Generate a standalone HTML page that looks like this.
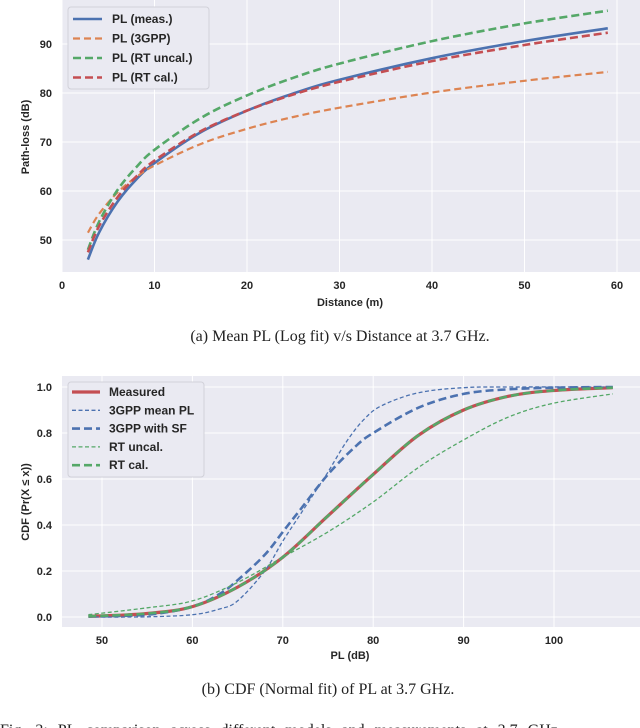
<!DOCTYPE html>
<html><head><meta charset="utf-8"><style>
body{margin:0;background:#fff;width:640px;height:728px;overflow:hidden}
svg{display:block}
text{font-family:"Liberation Sans",sans-serif;font-weight:bold}
.cap{font-family:"Liberation Serif",serif;font-size:16px;fill:#222;font-weight:normal}
</style></head><body>
<svg id="s" width="640" height="728"></svg>
<script>
// ---- Chart (a) data ----
const distA = [2.8,4,6,8,10,15,20,25,30,40,50,59];
const plMeas = [46,51.5,57.8,62.3,65.7,72,76.4,79.9,82.7,87.1,90.6,93.2];
const pl3gpp = [51.5,55.3,59.7,62.8,65.2,69.6,72.7,75.1,77.0,80.1,82.5,84.3];
const plRtUncal = [48,53.7,60.2,64.8,68.4,74.9,79.5,83.1,86.0,90.6,94.2,96.8];
const plRtCal = [47.5,52.8,58.7,62.9,66.2,72.2,76.4,79.7,82.3,86.5,89.8,92.3];
const xTicksA = [0,10,20,30,40,50,60];
const yTicksA = [50,60,70,80,90];
// ---- Chart (b) data ----
const plGridMeas = [48.5,50,55,60,65,70,75,80,85,90,95,100,106.5];
const cdfMeas = [0.003,0.005,0.015,0.045,0.13,0.26,0.44,0.62,0.79,0.9,0.96,0.985,0.997];
const plGrid3gpp = [48.5,55,60,63,65,68,70,72,74,75,77,79,81,85,90,95,106.5];
const cdf3gppMean = [0,0.001,0.01,0.035,0.07,0.2,0.33,0.45,0.57,0.63,0.76,0.86,0.92,0.975,0.997,1,1];
const plGridSF = [48.5,55,60,63,65,68,70,72,75,78,80,85,90,95,100,106.5];
const cdf3gppSF = [0.002,0.01,0.045,0.1,0.16,0.27,0.37,0.47,0.62,0.74,0.8,0.91,0.97,0.99,0.997,1];
const plGridRT = [48.5,55,60,65,70,75,80,85,90,95,100,106.5];
const cdfRtUncal = [0.01,0.04,0.07,0.15,0.26,0.37,0.5,0.65,0.77,0.87,0.93,0.97];
const cdfRtCal = [0.003,0.015,0.045,0.13,0.26,0.44,0.62,0.79,0.9,0.96,0.985,0.997];
const xTicksB = [50,60,70,80,90,100];
const yTicksB = [0,0.2,0.4,0.6,0.8,1.0];

const NS="http://www.w3.org/2000/svg";
const svg=document.getElementById('s');
function el(tag,attrs,parent){const e=document.createElementNS(NS,tag);for(const k in attrs)e.setAttribute(k,attrs[k]);(parent||svg).appendChild(e);return e;}
function txt(x,y,s,attrs){const t=el('text',Object.assign({x:x,y:y},attrs||{}));t.textContent=s;return t;}

const xA=d=>62+d*9.25, yA=v=>240-(v-50)*4.9;
const xB=v=>102+(v-50)*9.04, yB=p=>617-p*230;

function panel(top,bottom,name){
  const r=el('rect',{x:62,y:top,width:578,height:bottom-top,fill:'#eaeaf2'});
  
  
}
function line(xs,ys,fx,fy,color,w,dash,name){
  const P=xs.map((x,i)=>[fx(x),fy(ys[i])]);
  let d='M'+P[0][0].toFixed(1)+','+P[0][1].toFixed(1);
  for(let i=0;i<P.length-1;i++){
    const p0=P[i-1]||P[i],p1=P[i],p2=P[i+1],p3=P[i+2]||P[i+1];
    const c1=[p1[0]+(p2[0]-p0[0])/6,p1[1]+(p2[1]-p0[1])/6];
    const c2=[p2[0]-(p3[0]-p1[0])/6,p2[1]-(p3[1]-p1[1])/6];
    d+='C'+c1.map(v=>v.toFixed(1)).join(',')+' '+c2.map(v=>v.toFixed(1)).join(',')+' '+p2.map(v=>v.toFixed(1)).join(',');
  }
  const p=el('path',{d:d,fill:'none',stroke:color,'stroke-width':w,'stroke-dasharray':dash||'none','stroke-linejoin':'round'});
  
  
}
const B='#4c72b0',O='#dd8452',G='#55a868',R='#c44e52';

// ---- Chart A ----
panel(0,272,'plot-area-a');
xTicksA.forEach(t=>{el('line',{x1:xA(t),x2:xA(t),y1:0,y2:272,stroke:'#fff','stroke-width':1});
  const l=txt(xA(t),289,t,{'text-anchor':'middle','font-size':11,fill:'#262626'});
  });
yTicksA.forEach(t=>{el('line',{x1:62,x2:640,y1:yA(t),y2:yA(t),stroke:'#fff','stroke-width':1});
  const l=txt(52,yA(t)+4,t,{'text-anchor':'end','font-size':11,fill:'#262626'});
  });
line(distA,plMeas,xA,yA,B,2.6,null,'line-pl-meas');
line(distA,pl3gpp,xA,yA,O,2.2,'7,4','line-pl-3gpp');
line(distA,plRtUncal,xA,yA,G,2.6,'8,4','line-pl-rt-uncal');
line(distA,plRtCal,xA,yA,R,2.6,'8,4','line-pl-rt-cal');
let t=txt(350,306,'Distance (m)',{'text-anchor':'middle','font-size':11,fill:'#262626'});

t=txt(0,0,'Path-loss (dB)',{'text-anchor':'middle','font-size':11,fill:'#262626',transform:'translate(29,137) rotate(-90)'});

let lg=el('rect',{x:68,y:7,width:141,height:82,rx:3,fill:'#eaeaf2',stroke:'#d0d0d8','stroke-width':1,opacity:0.95});

[['PL (meas.)',B,null,2.6],['PL (3GPP)',O,'7,4',2.2],['PL (RT uncal.)',G,'8,4',2.6],['PL (RT cal.)',R,'8,4',2.6]].forEach((e,i)=>{
  const y=19+i*19.5;
  el('line',{x1:73,x2:102,y1:y,y2:y,stroke:e[1],'stroke-width':e[3],'stroke-dasharray':e[2]||'none'});
  const l=txt(112,y+4,e[0],{'font-size':12,fill:'#262626'});
  
});
t=txt(340,341,'(a) Mean PL (Log fit) v/s Distance at 3.7 GHz.',{'text-anchor':'middle','class':'cap'});


// ---- Chart B ----
panel(376,627,'plot-area-b');
xTicksB.forEach(v=>{el('line',{x1:xB(v),x2:xB(v),y1:376,y2:627,stroke:'#fff','stroke-width':1});
  const l=txt(xB(v),644,v,{'text-anchor':'middle','font-size':11,fill:'#262626'});
  });
yTicksB.forEach(v=>{el('line',{x1:62,x2:640,y1:yB(v),y2:yB(v),stroke:'#fff','stroke-width':1});
  const l=txt(52,yB(v)+4,v.toFixed(1),{'text-anchor':'end','font-size':11,fill:'#262626'});
  });
line(plGridMeas,cdfMeas,xB,yB,R,3.2,null,'line-cdf-measured');
line(plGrid3gpp,cdf3gppMean,xB,yB,B,1.3,'4,2.5','line-cdf-3gpp-mean');
line(plGridSF,cdf3gppSF,xB,yB,B,2.6,'8,4','line-cdf-3gpp-sf');
line(plGridRT,cdfRtUncal,xB,yB,G,1.3,'4,2.5','line-cdf-rt-uncal');
line(plGridRT,cdfRtCal,xB,yB,G,2.6,'8,4','line-cdf-rt-cal');
t=txt(350,659,'PL (dB)',{'text-anchor':'middle','font-size':11,fill:'#262626'});

t=txt(0,0,'CDF  (Pr(X \u2264 x))',{'text-anchor':'middle','font-size':11,fill:'#262626',transform:'translate(29,502) rotate(-90)'});

lg=el('rect',{x:68,y:382,width:136,height:95,rx:3,fill:'#eaeaf2',stroke:'#d0d0d8','stroke-width':1,opacity:0.95});

[['Measured',R,null,3.2],['3GPP mean PL',B,'4,2.5',1.3],['3GPP with SF',B,'8,4',2.6],['RT uncal.',G,'4,2.5',1.3],['RT cal.',G,'8,4',2.6]].forEach((e,i)=>{
  const y=392+i*18.3;
  el('line',{x1:72,x2:100,y1:y,y2:y,stroke:e[1],'stroke-width':e[3],'stroke-dasharray':e[2]||'none'});
  const l=txt(109,y+4,e[0],{'font-size':12,fill:'#262626'});
  
});
t=txt(328,694,'(b) CDF (Normal fit) of PL at 3.7 GHz.',{'text-anchor':'middle','class':'cap'});

t=txt(0,735,'Fig. 3:  PL comparison across different models and measurements at 3.7 GHz.',{'class':'cap','word-spacing':'6'});

</script>
</body></html>
